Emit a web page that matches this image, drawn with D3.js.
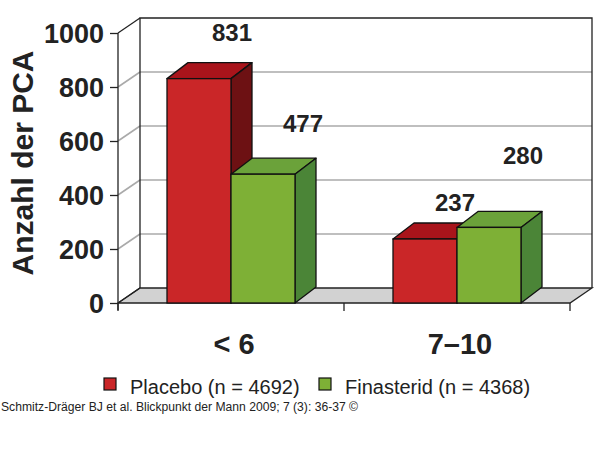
<!DOCTYPE html>
<html>
<head>
<meta charset="utf-8">
<script src="https://cdn.jsdelivr.net/npm/d3@7"></script>
<style>
  body { margin: 0; background: #fff; }
  text { font-family: "Liberation Sans", Arial, sans-serif; }
</style>
</head>
<body>
<script>
// data
var categories = ["< 6", "7\u201310"];
var seriesNames = ["Placebo (n = 4692)", "Finasterid (n = 4368)"];
var placebo = [831, 237];
var finasterid = [477, 280];
var yTicks = [0, 200, 400, 600, 800, 1000];
var source = "Schmitz-Dr\u00e4ger BJ et al. Blickpunkt der Mann 2009; 7 (3): 36-37 \u00a9";

// colours: front, top, side
var colors = [
  {front: "#ca2628", top: "#a9141b", side: "#6d1113"},
  {front: "#7eb036", top: "#6ba23a", side: "#4b8537"}
];

// label nudges, relative to front centre of bar top
var labelNudge = [[[33, -46], [40, -51]], [[30, -37], [34, -72]]];

var vis = d3.select("body").append("svg")
    .attr("width", 600)
    .attr("height", 452);

var left = 118, right = 570, depthX = 22, depthY = -15, barDX = 21, barDY = -16;

var y = d3.scaleLinear()
    .domain([0, 1000])
    .range([303, 33]);

var x0 = d3.scaleBand()
    .domain(categories)
    .range([left, right]);

var groupW = 128;
var x1 = d3.scaleBand()
    .domain([0, 1])
    .range([0, groupW]);

function pts(a) { return a.map(function(p) { return p.join(","); }).join(" "); }

// back wall
vis.append("rect")
    .attr("x", left + depthX).attr("y", y(1000) + depthY)
    .attr("width", right - left).attr("height", y(0) - y(1000))
    .attr("fill", "#fff");

// floor
vis.append("polygon")
    .attr("points", pts([[left, y(0)], [right, y(0)], [right + depthX, y(0) + depthY], [left + depthX, y(0) + depthY]]))
    .attr("fill", "#d2d2d2")
    .attr("stroke", "#222").attr("stroke-width", 1.3);

// gridlines on back wall and side
vis.selectAll("line.grid")
    .data(yTicks.filter(function(d) { return d > 0 && d < 1000; }))
  .enter().append("line")
    .attr("class", "grid")
    .attr("x1", left + depthX).attr("x2", right + depthX)
    .attr("y1", function(d) { return y(d) + depthY; })
    .attr("y2", function(d) { return y(d) + depthY; })
    .attr("stroke", "#aaa").attr("stroke-width", 1.6);

vis.selectAll("line.side")
    .data(yTicks)
  .enter().append("line")
    .attr("class", "side")
    .attr("x1", left).attr("x2", left + depthX)
    .attr("y1", function(d) { return y(d); })
    .attr("y2", function(d) { return y(d) + depthY; })
    .attr("stroke", function(d) { return d === 1000 || d === 0 ? "#222" : "#aaa"; })
    .attr("stroke-width", function(d) { return d === 1000 || d === 0 ? 1.3 : 1.6; });

// wall frame
vis.append("polyline")
    .attr("points", pts([[left + depthX, y(0) + depthY], [left + depthX, y(1000) + depthY], [right + depthX, y(1000) + depthY], [right + depthX, y(0) + depthY]]))
    .attr("fill", "none").attr("stroke", "#222").attr("stroke-width", 1.3);

// y axis
var yAxis = d3.axisLeft(y).tickValues(yTicks).tickSize(8).tickFormat(d3.format("d"));
var ya = vis.append("g").attr("transform", "translate(" + left + ",0)").call(yAxis);
ya.select(".domain").attr("d", "M0," + y(1000) + "V" + (y(0) + 7)).attr("stroke", "#222").attr("stroke-width", 1.3);
ya.selectAll(".tick line").attr("stroke", "#222").attr("stroke-width", 1.3);
ya.selectAll(".tick text")
    .attr("x", -14).attr("dy", "0.36em")
    .attr("fill", "#222")
    .style("font-size", "27px").style("font-weight", "bold")
    .style("font-family", "'Liberation Sans', Arial, sans-serif");

// x axis ticks at band boundaries
var xTicks = [left].concat(categories.map(function(c) { return x0(c) + x0.bandwidth(); }));
vis.selectAll("line.xt")
    .data(xTicks)
  .enter().append("line")
    .attr("x1", function(d) { return d; }).attr("x2", function(d) { return d; })
    .attr("y1", y(0)).attr("y2", y(0) + 8)
    .attr("stroke", "#222").attr("stroke-width", 1.3);

// bars
var bars = [];
categories.forEach(function(c, i) {
  [placebo[i], finasterid[i]].forEach(function(v, s) {
    bars.push({cat: c, ci: i, s: s, value: v});
  });
});

var g = vis.selectAll("g.bar")
    .data(bars)
  .enter().append("g")
    .attr("class", "bar");

function bx(d) { return x0(d.cat) + (x0.bandwidth() - groupW) / 2 + x1(d.s); }

g.append("polygon")
    .attr("points", function(d) {
      var xa = bx(d), xb = xa + x1.bandwidth(), yt = y(d.value);
      return pts([[xa, yt], [xa + barDX, yt + barDY], [xb + barDX, yt + barDY], [xb, yt]]);
    })
    .attr("fill", function(d) { return colors[d.s].top; })
    .attr("stroke", "#111").attr("stroke-width", 1.3).attr("stroke-linejoin", "round");

g.append("polygon")
    .attr("points", function(d) {
      var xb = bx(d) + x1.bandwidth(), yt = y(d.value), yb = y(0);
      return pts([[xb, yt], [xb + barDX, yt + barDY], [xb + barDX, yb + barDY], [xb, yb]]);
    })
    .attr("fill", function(d) { return colors[d.s].side; })
    .attr("stroke", "#111").attr("stroke-width", 1.3).attr("stroke-linejoin", "round");

g.append("rect")
    .attr("x", bx)
    .attr("y", function(d) { return y(d.value); })
    .attr("width", x1.bandwidth())
    .attr("height", function(d) { return y(0) - y(d.value); })
    .attr("fill", function(d) { return colors[d.s].front; })
    .attr("stroke", "#111").attr("stroke-width", 1.3);

// value labels
vis.selectAll("text.val")
    .data(bars)
  .enter().append("text")
    .attr("class", "val")
    .attr("x", function(d) { return bx(d) + x1.bandwidth() / 2 + labelNudge[d.ci][d.s][0]; })
    .attr("y", function(d) { return y(d.value) + labelNudge[d.ci][d.s][1]; })
    .attr("dy", "0.36em")
    .attr("text-anchor", "middle")
    .attr("fill", "#222")
    .style("font-size", "24px").style("font-weight", "bold")
    .text(function(d) { return d.value; });

// category labels
vis.selectAll("text.cat")
    .data(categories)
  .enter().append("text")
    .attr("class", "cat")
    .attr("x", function(d) { return x0(d) + x0.bandwidth() / 2 + 3; })
    .attr("y", 354)
    .attr("text-anchor", "middle")
    .attr("fill", "#222")
    .style("font-size", "29px").style("font-weight", "bold")
    .text(function(d) { return d; });

// y title
vis.append("text")
    .attr("transform", "translate(33,163) rotate(-90)")
    .attr("text-anchor", "middle")
    .attr("fill", "#222")
    .style("font-size", "30px").style("font-weight", "bold")
    .text("Anzahl der PCA");

// legend
var legX = [104, 319];
var leg = vis.selectAll("g.leg")
    .data(seriesNames)
  .enter().append("g")
    .attr("class", "leg")
    .attr("transform", function(d, i) { return "translate(" + legX[i] + ",378)"; });
leg.append("rect")
    .attr("width", 12).attr("height", 12)
    .attr("fill", function(d, i) { return colors[i].front; })
    .attr("stroke", "#111").attr("stroke-width", 1.2);
leg.append("text")
    .attr("x", 26).attr("y", 16)
    .attr("fill", "#222")
    .style("font-size", "20px")
    .text(function(d) { return d; });

// source line
vis.append("text")
    .attr("x", 1).attr("y", 411)
    .attr("fill", "#222")
    .attr("textLength", 357).attr("lengthAdjust", "spacingAndGlyphs")
    .style("font-size", "12.5px")
    .text(source);
</script>
</body>
</html>
